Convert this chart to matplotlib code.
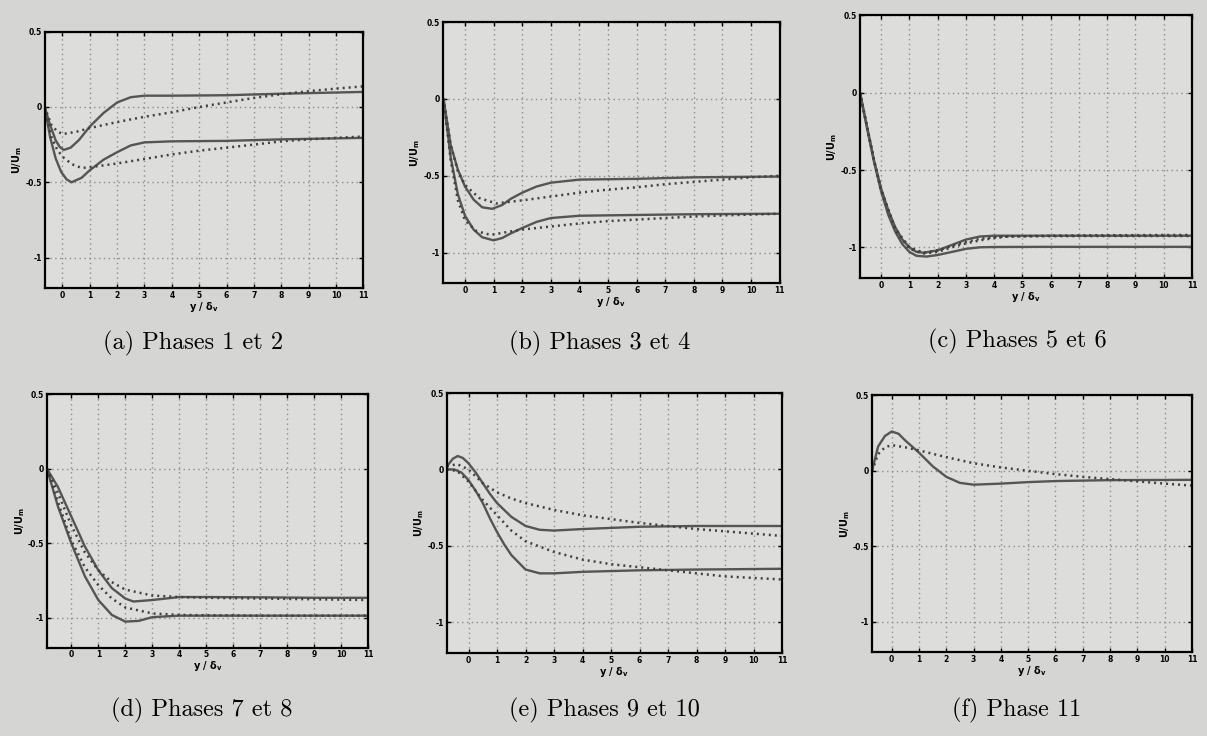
import matplotlib
matplotlib.use("Agg")
import matplotlib.pyplot as plt

# ---- data (y/delta_v , U/U_m) ----
# (a) phases 1 et 2
a_x_s1 = [-0.65, -0.45, -0.25, -0.1, 0.05, 0.3, 0.6, 1, 1.5, 2, 2.5, 3, 4, 6, 8, 11]
a_y_s1 = [0, -0.12, -0.22, -0.265, -0.285, -0.27, -0.22, -0.13, -0.04, 0.03, 0.065, 0.075, 0.075, 0.078, 0.088, 0.1]
a_x_s2 = [-0.65, -0.45, -0.25, -0.05, 0.15, 0.33, 0.7, 1, 1.5, 2, 2.5, 3, 4, 6, 8, 11]
a_y_s2 = [0, -0.2, -0.34, -0.43, -0.48, -0.5, -0.47, -0.42, -0.35, -0.3, -0.255, -0.235, -0.228, -0.225, -0.215, -0.205]
a_x_d1 = [-0.65, -0.4, -0.2, 0, 0.5, 1, 2, 3, 4, 5, 6, 7, 8, 9, 10, 11]
a_y_d1 = [0, -0.12, -0.16, -0.18, -0.165, -0.14, -0.10, -0.065, -0.035, 0.0, 0.03, 0.06, 0.085, 0.105, 0.122, 0.137]
a_x_d2 = [-0.65, -0.4, -0.2, 0, 0.35, 0.7, 1, 2, 3, 4, 5, 6, 7, 8, 9, 10, 11]
a_y_d2 = [0, -0.2, -0.28, -0.33, -0.38, -0.405, -0.40, -0.375, -0.345, -0.315, -0.29, -0.27, -0.25, -0.228, -0.215, -0.205, -0.196]

# (b) phases 3 et 4
b_x_s1 = [-0.75, -0.5, -0.25, 0, 0.3, 0.6, 0.95, 1.3, 1.6, 2, 2.5, 3, 4, 6, 8, 11]
b_y_s1 = [0, -0.3, -0.46, -0.57, -0.655, -0.705, -0.715, -0.69, -0.65, -0.61, -0.57, -0.545, -0.525, -0.52, -0.51, -0.505]
b_x_s2 = [-0.75, -0.5, -0.25, 0, 0.3, 0.6, 1.0, 1.3, 1.6, 2, 2.5, 3, 4, 6, 8, 11]
b_y_s2 = [0, -0.38, -0.62, -0.76, -0.85, -0.9, -0.92, -0.905, -0.875, -0.84, -0.8, -0.775, -0.76, -0.755, -0.75, -0.747]
b_x_d1 = [-0.75, -0.5, -0.25, 0, 0.5, 1.1, 2, 3, 4, 5, 6, 7, 8, 9, 10, 11]
b_y_d1 = [0, -0.3, -0.47, -0.56, -0.645, -0.68, -0.66, -0.635, -0.61, -0.59, -0.575, -0.555, -0.54, -0.525, -0.51, -0.5]
b_x_d2 = [-0.75, -0.5, -0.25, 0, 0.4, 0.9, 1.5, 2, 3, 4, 5, 6, 7, 8, 9, 11]
b_y_d2 = [0, -0.4, -0.66, -0.79, -0.86, -0.885, -0.865, -0.85, -0.83, -0.81, -0.795, -0.785, -0.775, -0.765, -0.758, -0.747]

# (c) phases 5 et 6
c_x_s1 = [-0.75, -0.5, -0.25, 0, 0.25, 0.5, 0.75, 1, 1.25, 1.5, 2, 2.5, 3, 3.5, 4, 6, 8, 11]
c_y_s1 = [0, -0.22, -0.44, -0.62, -0.76, -0.87, -0.95, -1.0, -1.03, -1.035, -1.02, -0.985, -0.95, -0.93, -0.925, -0.925, -0.925, -0.925]
c_x_s2 = [-0.75, -0.5, -0.25, 0, 0.25, 0.5, 0.75, 1, 1.25, 1.6, 2, 2.5, 3, 3.5, 4, 6, 8, 11]
c_y_s2 = [0, -0.23, -0.45, -0.64, -0.79, -0.9, -0.98, -1.03, -1.055, -1.06, -1.05, -1.03, -1.01, -1.0, -0.998, -0.997, -0.997, -0.997]
c_x_d1 = [-0.75, -0.5, -0.25, 0, 0.5, 1, 1.5, 2, 2.5, 3, 3.5, 4, 4.5, 6, 8, 11]
c_y_d1 = [0, -0.22, -0.44, -0.63, -0.89, -1.01, -1.04, -1.03, -1.0, -0.975, -0.955, -0.94, -0.93, -0.925, -0.922, -0.92]
c_x_d2 = [-0.75, -0.5, -0.25, 0, 0.5, 1, 1.5, 2, 2.5, 3, 3.5, 4, 4.5, 6, 8, 11]
c_y_d2 = [0, -0.22, -0.44, -0.63, -0.88, -1.0, -1.035, -1.02, -0.99, -0.965, -0.945, -0.935, -0.93, -0.928, -0.927, -0.927]

# (d) phases 7 et 8
d_x_s1 = [-0.9, -0.5, 0, 0.5, 1, 1.5, 2, 2.3, 3, 4, 5, 7, 9, 11]
d_y_s1 = [0, -0.12, -0.32, -0.52, -0.68, -0.8, -0.87, -0.89, -0.88, -0.86, -0.86, -0.862, -0.865, -0.865]
d_x_s2 = [-0.9, -0.5, 0, 0.5, 1, 1.5, 2, 2.5, 3, 4, 5, 7, 9, 11]
d_y_s2 = [0, -0.25, -0.5, -0.72, -0.88, -0.98, -1.025, -1.02, -0.995, -0.985, -0.985, -0.985, -0.985, -0.985]
d_x_d1 = [-0.9, -0.5, 0, 0.5, 1, 1.5, 2, 3, 4, 5, 7, 9, 11]
d_y_d1 = [0, -0.16, -0.38, -0.56, -0.68, -0.76, -0.81, -0.85, -0.86, -0.865, -0.87, -0.875, -0.88]
d_x_d2 = [-0.9, -0.5, 0, 0.5, 1, 1.5, 2, 3, 4, 5, 7, 9, 11]
d_y_d2 = [0, -0.22, -0.48, -0.66, -0.78, -0.87, -0.93, -0.97, -0.98, -0.982, -0.985, -0.985, -0.985]

# (e) phases 9 et 10
e_x_s1 = [-0.76, -0.55, -0.38, -0.2, 0, 0.25, 0.5, 0.75, 1, 1.5, 2, 2.5, 3, 4, 6, 8, 11]
e_y_s1 = [0.02, 0.07, 0.088, 0.075, 0.04, -0.02, -0.09, -0.16, -0.22, -0.31, -0.37, -0.395, -0.4, -0.39, -0.375, -0.37, -0.37]
e_x_s2 = [-0.76, -0.5, -0.25, 0, 0.25, 0.5, 0.75, 1, 1.25, 1.5, 2, 2.5, 3, 4, 6, 8, 11]
e_y_s2 = [0, 0, -0.02, -0.07, -0.14, -0.22, -0.32, -0.41, -0.49, -0.56, -0.655, -0.68, -0.68, -0.67, -0.66, -0.655, -0.65]
e_x_d1 = [-0.76, -0.4, 0, 0.5, 1, 1.5, 2, 3, 4, 5, 6, 7, 8, 9, 10, 11]
e_y_d1 = [0.02, 0.035, 0.0, -0.09, -0.15, -0.19, -0.22, -0.265, -0.3, -0.325, -0.35, -0.37, -0.39, -0.405, -0.42, -0.435]
e_x_d2 = [-0.76, -0.4, 0, 0.5, 1, 1.5, 2, 3, 4, 5, 6, 7, 8, 9, 10, 11]
e_y_d2 = [0, -0.01, -0.08, -0.2, -0.3, -0.4, -0.47, -0.54, -0.59, -0.62, -0.64, -0.66, -0.68, -0.7, -0.71, -0.72]

# (f) phase 11
f_x_s1 = [-0.72, -0.5, -0.25, 0, 0.25, 0.5, 1, 1.5, 2, 2.5, 3, 4, 5, 6, 8, 11]
f_y_s1 = [0, 0.16, 0.23, 0.26, 0.245, 0.2, 0.12, 0.03, -0.04, -0.08, -0.092, -0.085, -0.075, -0.068, -0.062, -0.06]
f_x_d1 = [-0.72, -0.5, -0.25, 0, 0.5, 1, 2, 3, 4, 5, 6, 7, 8, 9, 10, 11]
f_y_d1 = [0, 0.11, 0.155, 0.17, 0.155, 0.135, 0.09, 0.05, 0.022, 0.0, -0.022, -0.04, -0.055, -0.07, -0.085, -0.098]

captions = ["(a) Phases 1 et 2", "(b) Phases 3 et 4", "(c) Phases 5 et 6",
            "(d) Phases 7 et 8", "(e) Phases 9 et 10", "(f) Phase 11"]
xticks = list(range(0, 12))
yticks = [-1, -0.5, 0, 0.5]
yticklabels = ["-1", "-0.5", "0", "0.5"]

panels = [
    ([(a_x_s1, a_y_s1), (a_x_s2, a_y_s2)], [(a_x_d1, a_y_d1), (a_x_d2, a_y_d2)], -0.65),
    ([(b_x_s1, b_y_s1), (b_x_s2, b_y_s2)], [(b_x_d1, b_y_d1), (b_x_d2, b_y_d2)], -0.77),
    ([(c_x_s1, c_y_s1), (c_x_s2, c_y_s2)], [(c_x_d1, c_y_d1), (c_x_d2, c_y_d2)], -0.75),
    ([(d_x_s1, d_y_s1), (d_x_s2, d_y_s2)], [(d_x_d1, d_y_d1), (d_x_d2, d_y_d2)], -0.9),
    ([(e_x_s1, e_y_s1), (e_x_s2, e_y_s2)], [(e_x_d1, e_y_d1), (e_x_d2, e_y_d2)], -0.77),
    ([(f_x_s1, f_y_s1)], [(f_x_d1, f_y_d1)], -0.72),
]

# axes boxes in figure fractions [left, bottom, width, height]
boxes = [
    [0.037, 0.609, 0.264, 0.348],
    [0.367, 0.615, 0.279, 0.355],
    [0.7125, 0.622, 0.275, 0.357],
    [0.039, 0.120, 0.266, 0.344],
    [0.370, 0.113, 0.278, 0.353],
    [0.7225, 0.114, 0.265, 0.349],
]
cap_pos = [(193, 343), (600, 343), (1017, 341), (202, 710), (604, 710), (1017, 710)]

page = "#d5d5d3"
fig = plt.figure(figsize=(12.07, 7.36), dpi=100, facecolor=page)

for (solids, dots, xmin), box, cap, cp in zip(panels, boxes, captions, cap_pos):
    ax = fig.add_axes(box)
    ax.set_facecolor("#dddddb")
    for xs, ys in solids:
        ax.plot(xs, ys, color="#555555", lw=1.7, solid_capstyle="round")
    for xs, ys in dots:
        ax.plot(xs, ys, color="#404040", lw=1.8, ls=(0, (0.8, 1.6)))
    ax.set_xlim(xmin, 11)
    ax.set_ylim(-1.2, 0.5)
    ax.set_xticks(xticks)
    ax.set_xticklabels([str(t) for t in xticks], fontsize=5.5, fontweight="bold")
    ax.set_yticks(yticks)
    ax.set_yticklabels(yticklabels, fontsize=5.5, fontweight="bold")
    ax.tick_params(direction="in", top=True, right=True, length=3, width=1, pad=2)
    ax.grid(True, ls=(0, (1, 2.5)), color="#8c8c8c", lw=1.0)
    for s in ax.spines.values():
        s.set_linewidth(1.6)
    ax.set_ylabel(r"U/U$_\mathbf{m}$", fontsize=7, fontweight="bold", labelpad=1)
    ax.set_xlabel(r"y / $\mathbf{\delta}_\mathbf{v}$", fontsize=7, fontweight="bold", labelpad=0)
    fig.text(cp[0] / 1207, 1 - cp[1] / 736, cap, ha="center", va="center",
             fontsize=17.5, family="cmr10")

fig.savefig("out.png", dpi=100, facecolor=page)
